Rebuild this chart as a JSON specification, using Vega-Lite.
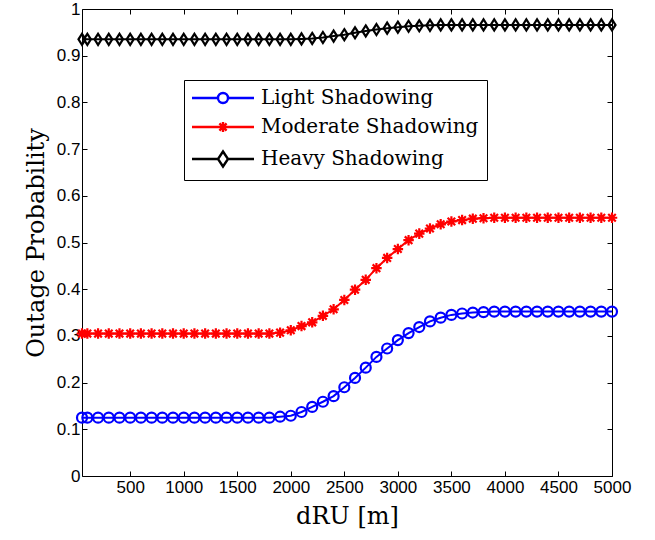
{
  "$schema": "https://vega.github.io/schema/vega-lite/v6.json",
  "width": 530,
  "height": 467,
  "autosize": {"type": "none"},
  "padding": {"left": 82, "top": 9, "right": 43, "bottom": 64},
  "background": "white",
  "config": {
    "view": {"stroke": "black", "strokeWidth": 1},
    "axis": {
      "domain": false,
      "grid": false,
      "tickColor": "black",
      "tickSize": -5,
      "tickWidth": 1,
      "labelColor": "black",
      "labelFont": "Liberation Sans",
      "labelFontSize": 17,
      "labelOverlap": false,
      "labelFlush": false,
      "titleColor": "black",
      "titleFont": "DejaVu Serif",
      "titleFontWeight": "normal",
      "titleFontSize": 24
    },
    "legend": {
      "labelFont": "DejaVu Serif",
      "labelFontSize": 20,
      "labelColor": "black",
      "labelLimit": 400
    }
  },
  "data": {
    "values": [
      {"d":50,"series":"Light Shadowing","p":0.125},{"d":100,"series":"Light Shadowing","p":0.125},{"d":200,"series":"Light Shadowing","p":0.125},{"d":300,"series":"Light Shadowing","p":0.125},{"d":400,"series":"Light Shadowing","p":0.125},{"d":500,"series":"Light Shadowing","p":0.125},{"d":600,"series":"Light Shadowing","p":0.125},{"d":700,"series":"Light Shadowing","p":0.125},{"d":800,"series":"Light Shadowing","p":0.125},{"d":900,"series":"Light Shadowing","p":0.125},{"d":1000,"series":"Light Shadowing","p":0.125},{"d":1100,"series":"Light Shadowing","p":0.125},{"d":1200,"series":"Light Shadowing","p":0.125},{"d":1300,"series":"Light Shadowing","p":0.125},{"d":1400,"series":"Light Shadowing","p":0.125},{"d":1500,"series":"Light Shadowing","p":0.125},{"d":1600,"series":"Light Shadowing","p":0.125},{"d":1700,"series":"Light Shadowing","p":0.125},{"d":1800,"series":"Light Shadowing","p":0.125},{"d":1900,"series":"Light Shadowing","p":0.127},{"d":2000,"series":"Light Shadowing","p":0.129},{"d":2100,"series":"Light Shadowing","p":0.137},{"d":2200,"series":"Light Shadowing","p":0.148},{"d":2300,"series":"Light Shadowing","p":0.159},{"d":2400,"series":"Light Shadowing","p":0.171},{"d":2500,"series":"Light Shadowing","p":0.19},{"d":2600,"series":"Light Shadowing","p":0.21},{"d":2700,"series":"Light Shadowing","p":0.232},{"d":2800,"series":"Light Shadowing","p":0.255},{"d":2900,"series":"Light Shadowing","p":0.273},{"d":3000,"series":"Light Shadowing","p":0.291},{"d":3100,"series":"Light Shadowing","p":0.306},{"d":3200,"series":"Light Shadowing","p":0.319},{"d":3300,"series":"Light Shadowing","p":0.331},{"d":3400,"series":"Light Shadowing","p":0.339},{"d":3500,"series":"Light Shadowing","p":0.345},{"d":3600,"series":"Light Shadowing","p":0.348},{"d":3700,"series":"Light Shadowing","p":0.35},{"d":3800,"series":"Light Shadowing","p":0.351},{"d":3900,"series":"Light Shadowing","p":0.352},{"d":4000,"series":"Light Shadowing","p":0.352},{"d":4100,"series":"Light Shadowing","p":0.352},{"d":4200,"series":"Light Shadowing","p":0.352},{"d":4300,"series":"Light Shadowing","p":0.352},{"d":4400,"series":"Light Shadowing","p":0.352},{"d":4500,"series":"Light Shadowing","p":0.352},{"d":4600,"series":"Light Shadowing","p":0.352},{"d":4700,"series":"Light Shadowing","p":0.352},{"d":4800,"series":"Light Shadowing","p":0.352},{"d":4900,"series":"Light Shadowing","p":0.352},{"d":5000,"series":"Light Shadowing","p":0.352},
      {"d":50,"series":"Moderate Shadowing","p":0.305},{"d":100,"series":"Moderate Shadowing","p":0.305},{"d":200,"series":"Moderate Shadowing","p":0.305},{"d":300,"series":"Moderate Shadowing","p":0.305},{"d":400,"series":"Moderate Shadowing","p":0.305},{"d":500,"series":"Moderate Shadowing","p":0.305},{"d":600,"series":"Moderate Shadowing","p":0.305},{"d":700,"series":"Moderate Shadowing","p":0.305},{"d":800,"series":"Moderate Shadowing","p":0.305},{"d":900,"series":"Moderate Shadowing","p":0.305},{"d":1000,"series":"Moderate Shadowing","p":0.305},{"d":1100,"series":"Moderate Shadowing","p":0.305},{"d":1200,"series":"Moderate Shadowing","p":0.305},{"d":1300,"series":"Moderate Shadowing","p":0.305},{"d":1400,"series":"Moderate Shadowing","p":0.305},{"d":1500,"series":"Moderate Shadowing","p":0.305},{"d":1600,"series":"Moderate Shadowing","p":0.305},{"d":1700,"series":"Moderate Shadowing","p":0.305},{"d":1800,"series":"Moderate Shadowing","p":0.305},{"d":1900,"series":"Moderate Shadowing","p":0.307},{"d":2000,"series":"Moderate Shadowing","p":0.312},{"d":2100,"series":"Moderate Shadowing","p":0.321},{"d":2200,"series":"Moderate Shadowing","p":0.329},{"d":2300,"series":"Moderate Shadowing","p":0.343},{"d":2400,"series":"Moderate Shadowing","p":0.357},{"d":2500,"series":"Moderate Shadowing","p":0.377},{"d":2600,"series":"Moderate Shadowing","p":0.399},{"d":2700,"series":"Moderate Shadowing","p":0.42},{"d":2800,"series":"Moderate Shadowing","p":0.445},{"d":2900,"series":"Moderate Shadowing","p":0.467},{"d":3000,"series":"Moderate Shadowing","p":0.486},{"d":3100,"series":"Moderate Shadowing","p":0.505},{"d":3200,"series":"Moderate Shadowing","p":0.519},{"d":3300,"series":"Moderate Shadowing","p":0.53},{"d":3400,"series":"Moderate Shadowing","p":0.539},{"d":3500,"series":"Moderate Shadowing","p":0.545},{"d":3600,"series":"Moderate Shadowing","p":0.548},{"d":3700,"series":"Moderate Shadowing","p":0.551},{"d":3800,"series":"Moderate Shadowing","p":0.552},{"d":3900,"series":"Moderate Shadowing","p":0.553},{"d":4000,"series":"Moderate Shadowing","p":0.553},{"d":4100,"series":"Moderate Shadowing","p":0.553},{"d":4200,"series":"Moderate Shadowing","p":0.553},{"d":4300,"series":"Moderate Shadowing","p":0.553},{"d":4400,"series":"Moderate Shadowing","p":0.553},{"d":4500,"series":"Moderate Shadowing","p":0.553},{"d":4600,"series":"Moderate Shadowing","p":0.553},{"d":4700,"series":"Moderate Shadowing","p":0.553},{"d":4800,"series":"Moderate Shadowing","p":0.553},{"d":4900,"series":"Moderate Shadowing","p":0.553},{"d":5000,"series":"Moderate Shadowing","p":0.553},
      {"d":50,"series":"Heavy Shadowing","p":0.935},{"d":100,"series":"Heavy Shadowing","p":0.935},{"d":200,"series":"Heavy Shadowing","p":0.935},{"d":300,"series":"Heavy Shadowing","p":0.935},{"d":400,"series":"Heavy Shadowing","p":0.935},{"d":500,"series":"Heavy Shadowing","p":0.935},{"d":600,"series":"Heavy Shadowing","p":0.935},{"d":700,"series":"Heavy Shadowing","p":0.935},{"d":800,"series":"Heavy Shadowing","p":0.935},{"d":900,"series":"Heavy Shadowing","p":0.935},{"d":1000,"series":"Heavy Shadowing","p":0.935},{"d":1100,"series":"Heavy Shadowing","p":0.935},{"d":1200,"series":"Heavy Shadowing","p":0.935},{"d":1300,"series":"Heavy Shadowing","p":0.935},{"d":1400,"series":"Heavy Shadowing","p":0.935},{"d":1500,"series":"Heavy Shadowing","p":0.935},{"d":1600,"series":"Heavy Shadowing","p":0.935},{"d":1700,"series":"Heavy Shadowing","p":0.935},{"d":1800,"series":"Heavy Shadowing","p":0.935},{"d":1900,"series":"Heavy Shadowing","p":0.935},{"d":2000,"series":"Heavy Shadowing","p":0.935},{"d":2100,"series":"Heavy Shadowing","p":0.936},{"d":2200,"series":"Heavy Shadowing","p":0.937},{"d":2300,"series":"Heavy Shadowing","p":0.939},{"d":2400,"series":"Heavy Shadowing","p":0.942},{"d":2500,"series":"Heavy Shadowing","p":0.945},{"d":2600,"series":"Heavy Shadowing","p":0.949},{"d":2700,"series":"Heavy Shadowing","p":0.953},{"d":2800,"series":"Heavy Shadowing","p":0.956},{"d":2900,"series":"Heavy Shadowing","p":0.959},{"d":3000,"series":"Heavy Shadowing","p":0.961},{"d":3100,"series":"Heavy Shadowing","p":0.963},{"d":3200,"series":"Heavy Shadowing","p":0.964},{"d":3300,"series":"Heavy Shadowing","p":0.965},{"d":3400,"series":"Heavy Shadowing","p":0.966},{"d":3500,"series":"Heavy Shadowing","p":0.966},{"d":3600,"series":"Heavy Shadowing","p":0.966},{"d":3700,"series":"Heavy Shadowing","p":0.966},{"d":3800,"series":"Heavy Shadowing","p":0.966},{"d":3900,"series":"Heavy Shadowing","p":0.966},{"d":4000,"series":"Heavy Shadowing","p":0.966},{"d":4100,"series":"Heavy Shadowing","p":0.966},{"d":4200,"series":"Heavy Shadowing","p":0.966},{"d":4300,"series":"Heavy Shadowing","p":0.966},{"d":4400,"series":"Heavy Shadowing","p":0.966},{"d":4500,"series":"Heavy Shadowing","p":0.966},{"d":4600,"series":"Heavy Shadowing","p":0.966},{"d":4700,"series":"Heavy Shadowing","p":0.966},{"d":4800,"series":"Heavy Shadowing","p":0.966},{"d":4900,"series":"Heavy Shadowing","p":0.966},{"d":5000,"series":"Heavy Shadowing","p":0.966}
    ]
  },
  "resolve": {"axis": {"x": "independent", "y": "independent"}},
  "layer": [
    {
      "mark": {"type": "line", "strokeWidth": 2, "clip": false},
      "encoding": {
        "x": {"field": "d", "type": "quantitative",
              "scale": {"domain": [50, 5000], "nice": false, "zero": false},
              "axis": {"values": [500,1000,1500,2000,2500,3000,3500,4000,4500,5000], "format": "d", "labelPadding": 8, "title": "dRU [m]", "titlePadding": 9}},
        "y": {"field": "p", "type": "quantitative",
              "scale": {"domain": [0, 1], "nice": false},
              "axis": {"values": [0,0.1,0.2,0.3,0.4,0.5,0.6,0.7,0.8,0.9,1], "format": "~g", "labelPadding": 7, "title": "Outage Probability", "titlePadding": 8}},
        "color": {"field": "series", "type": "nominal",
                  "scale": {"domain": ["Light Shadowing","Moderate Shadowing","Heavy Shadowing"], "range": ["#0000ff","#ff0000","#000000"]},
                  "legend": null}
      }
    },
    {
      "mark": {"type": "point", "filled": false, "opacity": 1, "clip": false},
      "encoding": {
        "x": {"field": "d", "type": "quantitative",
              "axis": {"orient": "top", "values": [500,1000,1500,2000,2500,3000,3500,4000,4500,5000], "labels": false, "title": null}},
        "y": {"field": "p", "type": "quantitative",
              "axis": {"orient": "right", "values": [0,0.1,0.2,0.3,0.4,0.5,0.6,0.7,0.8,0.9,1], "labels": false, "title": null}},
        "stroke": {"field": "series", "type": "nominal", "sort": ["Light Shadowing","Moderate Shadowing","Heavy Shadowing"],
                   "scale": {"range": ["#0000ff","#ff0000","#000000"]},
                   "legend": {"title": null, "orient": "none", "legendX": 102, "legendY": 71, "padding": 8, "symbolOffset": 21, "labelOffset": 28, "rowPadding": 9,
                              "strokeColor": "black", "fillColor": "white",
                              "symbolStrokeWidth": 2.4, "symbolSize": 100, "symbolFillColor": "transparent",
                              "symbolType": {"expr": "datum.value === 'Light Shadowing' ? 'M-6.2,0L-1,0M1,0L6.2,0M-1,0A1,1 0 1,1 1,0A1,1 0 1,1 -1,0' : datum.value === 'Moderate Shadowing' ? 'M-6.2,0L6.2,0M0,-1L0,1M-0.72,-0.72L0.72,0.72M-0.72,0.72L0.72,-0.72' : 'M-6.2,0L-1,0M1,0L6.2,0M0,-1.5L1,0L0,1.5L-1,0Z'"}}},
        "shape": {"field": "series", "type": "nominal", "sort": ["Light Shadowing","Moderate Shadowing","Heavy Shadowing"],
                  "scale": {"range": ["circle", "M-1,0L1,0M0,-1L0,1M-0.72,-0.72L0.72,0.72M-0.72,0.72L0.72,-0.72", "M0,-1L0.64,0L0,1L-0.64,0Z"]},
                  "legend": null},
        "size": {"field": "series", "type": "nominal", "sort": ["Light Shadowing","Moderate Shadowing","Heavy Shadowing"],
                 "scale": {"range": [100, 121, 289]}, "legend": null},
        "strokeWidth": {"field": "series", "type": "nominal", "sort": ["Light Shadowing","Moderate Shadowing","Heavy Shadowing"],
                 "scale": {"range": [2.2, 2.2, 2]}, "legend": null}
      }
    }
  ]
}
